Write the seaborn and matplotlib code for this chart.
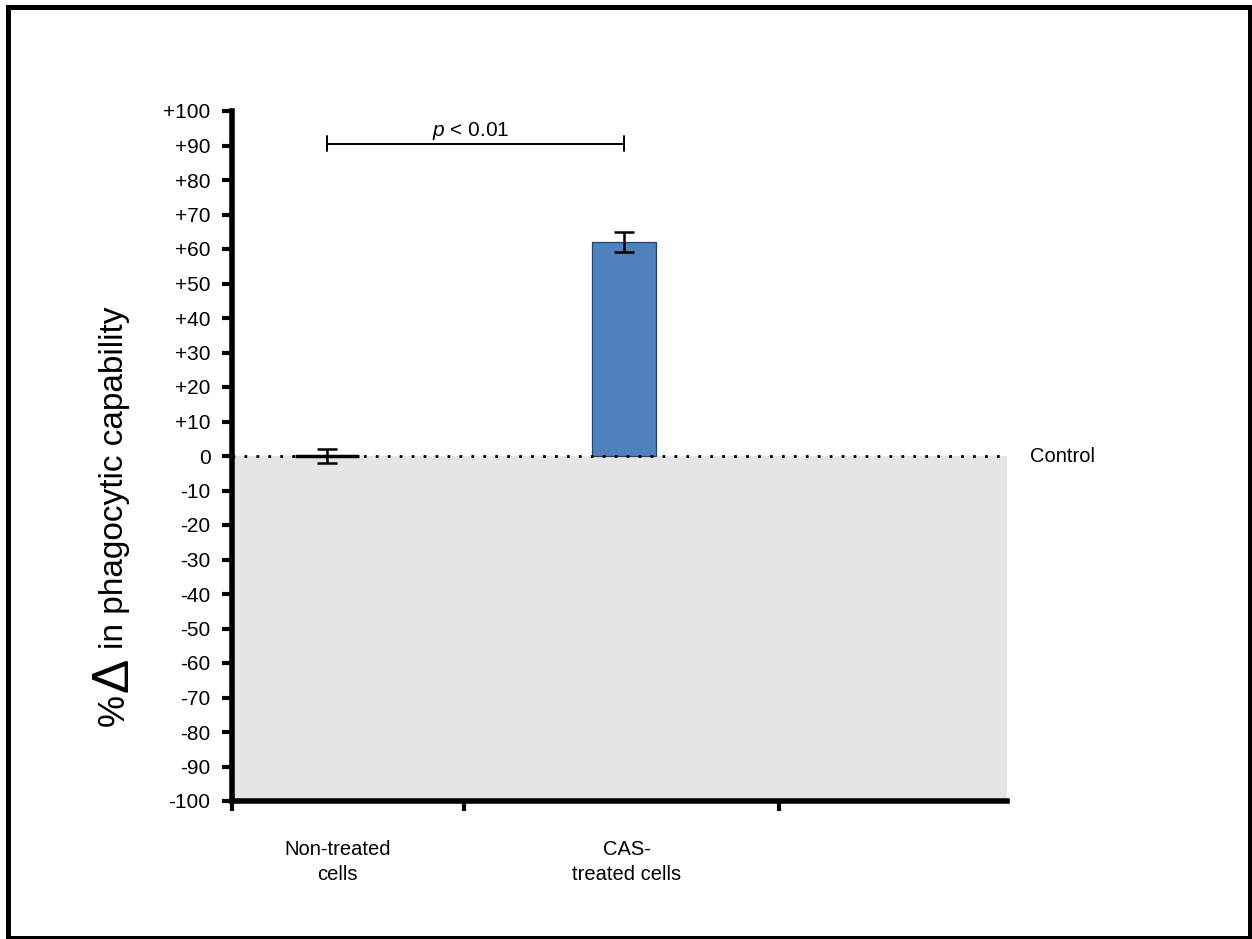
import matplotlib
matplotlib.use("Agg")
import matplotlib.pyplot as plt
from matplotlib.patches import Rectangle
from matplotlib.ticker import FixedLocator
import pandas as pd
import seaborn as sns

# Mean change in phagocytic capability relative to control (%) with SEM
groups = ["Non-treated\ncells", "CAS-\ntreated cells"]
change = [0.0, 62.0]
sem = [2.0, 3.0]
bar_colors = ["#4f81bd", "#4f81bd"]
ytick_values = list(range(-100, 101, 10))
ytick_labels = [f"+{v}" if v > 0 else str(v) for v in ytick_values]
pvalue_text = "$p$ < 0.01"
control_text = "Control"

sns.set_style("white")
plt.rcParams["font.family"] = ["Liberation Sans", "DejaVu Sans"]
plt.rcParams["mathtext.fontset"] = "custom"
plt.rcParams["mathtext.it"] = "Liberation Sans:italic"
plt.rcParams["mathtext.rm"] = "Liberation Sans"
for key in ("text.color", "axes.labelcolor", "xtick.color", "ytick.color"):
    plt.rcParams[key] = "black"

df = pd.DataFrame({"group": groups, "change": change})

fig = plt.figure(figsize=(12.52, 9.39), dpi=100)
fig.patch.set_facecolor("white")
ax = fig.add_axes([232 / 1252, 1 - 801 / 939, 775 / 1252, 690 / 939])
ax.set_facecolor("white")

sns.barplot(data=df, x="group", y="change", hue="group", palette=bar_colors,
            width=0.215, saturation=1, legend=False, ax=ax, zorder=2, errorbar=None)
bars = [p for c in ax.containers for p in c]
for patch, ec, lw in zip(bars, ["black", "#24406b"], [2.5, 0.9]):
    patch.set_edgecolor(ec)
    patch.set_linewidth(lw)

# shaded region below the control level
ax.axhspan(-100, 0, facecolor="#e5e5e5", edgecolor="none", zorder=0, lw=0)

ax.errorbar(x=range(len(groups)), y=change, yerr=sem, fmt="none", ecolor="black",
            elinewidth=1.8, capsize=7.5, capthick=1.8, zorder=4)

# control reference line
ax.axhline(0, color="black", lw=2.0, ls=(0, (1, 3.3)), zorder=3)
ax.text(1.03, 0, control_text, transform=ax.get_yaxis_transform(),
        ha="left", va="center", fontsize=14.5)

# significance bracket
ax.plot([0, 1], [90.5, 90.5], color="black", lw=1.4, zorder=4)
for xb in (0, 1):
    ax.plot([xb, xb], [88.3, 92.7], color="black", lw=1.4, zorder=4)
ax.text(0.485, 92.8, pvalue_text, ha="center", va="baseline", fontsize=15)

ax.set_xlim(-0.32, 2.29)
ax.set_ylim(-100, 100)
ax.set_yticks(ytick_values)
ax.set_yticklabels(ytick_labels, fontsize=15)
ax.set_xticks([0.035, 1.01])
ax.set_xticklabels(groups, fontsize=14.5, linespacing=1.4)
ax.xaxis.set_minor_locator(FixedLocator([-0.32, 0.461, 1.522]))
ax.tick_params(axis="x", which="major", length=0, pad=28)
ax.tick_params(axis="x", which="minor", length=7, width=3, color="black",
               direction="out", bottom=True)
ax.tick_params(axis="y", which="major", length=7.5, width=3, color="black",
               direction="out", left=True, pad=8)
ax.set_xlabel("")
ax.set_ylabel("")

for side in ("top", "right"):
    ax.spines[side].set_visible(False)
for side in ("left", "bottom"):
    ax.spines[side].set_visible(True)
    ax.spines[side].set_color("black")
    ax.spines[side].set_linewidth(4)

# y-axis title with an enlarged delta sign
fig.text(114 / 1252, 1 - 710 / 939, "%", rotation=90, ha="center", va="center", fontsize=26)
fig.text(114 / 1252, 1 - 675 / 939, "\u0394", rotation=90, ha="center", va="center", fontsize=37)
fig.text(114 / 1252, 1 - 478 / 939, "in phagocytic capability", rotation=90,
         ha="center", va="center", fontsize=24)

# outer frame
fig.patches.append(Rectangle((7.5 / 1252, 1.5 / 939), 1242.5 / 1252, 930.5 / 939,
                             transform=fig.transFigure, fill=False,
                             edgecolor="black", lw=3.6, zorder=10))

fig.savefig("out.png", dpi=100)
